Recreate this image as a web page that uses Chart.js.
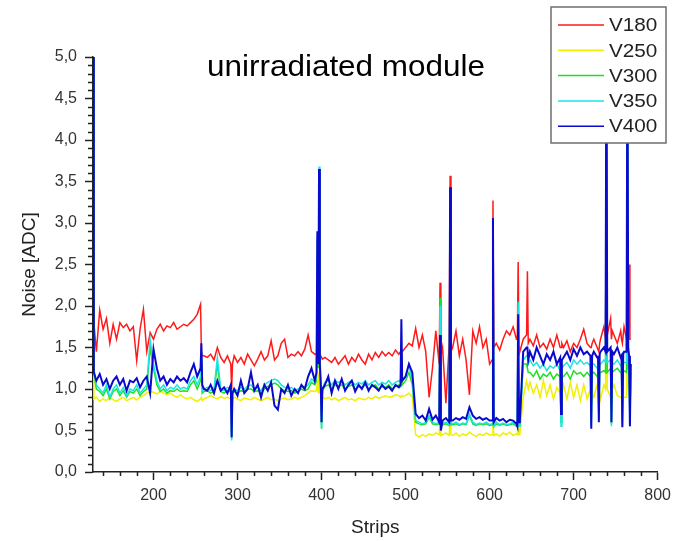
<!DOCTYPE html>
<html>
<head>
<meta charset="utf-8">
<script src="https://cdn.jsdelivr.net/npm/chart.js@4.4.0/dist/chart.umd.min.js"></script>
<style>
  html, body { margin: 0; padding: 0; background: #fff; }
  canvas { display: block; }
</style>
</head>
<body>
<canvas id="chart" width="677" height="541"></canvas>
<script>
'use strict';

// Strip numbers. Roughly every 4th strip, denser around the spikes.
var strips = [
  128, 129, 132, 136, 140, 144, 148, 152, 156, 160, 164, 168, 172, 176, 180, 184, 188, 192, 196, 200,
  204, 208, 212, 216, 220, 224, 228, 232, 236, 240, 244, 248, 252, 256, 257, 258,
  260, 264, 268, 272, 276, 280, 284, 288, 292, 293, 294, 296, 300, 304, 308, 312, 316, 320,
  324, 328, 332, 336, 340, 344, 348, 352, 356, 360, 364, 368, 372, 376, 380, 384, 388, 392,
  394, 395, 396, 397, 398, 399, 400, 401,
  404, 408, 412, 416, 420, 424, 428, 432, 436, 440, 444, 448,
  452, 456, 460, 464, 468, 472, 476, 480, 484, 488, 492, 494, 495, 496,
  500, 504, 508, 512, 516, 520, 524, 528, 532, 536, 540, 541, 542,
  544, 548, 552, 553, 554, 556, 560, 564, 568, 572, 576, 580, 584, 588, 592, 596, 600,
  603, 604, 605, 608, 612, 616, 620, 624, 628, 632, 633, 634, 635,
  636, 640, 644, 645, 646, 648, 652, 656, 660, 664, 668, 672, 676, 680, 684, 685, 686,
  688, 692, 696, 700, 704, 708, 712, 716, 720, 721, 722, 724, 728, 729, 730, 731,
  732, 736, 738, 739, 740, 744, 745, 746, 748, 752, 756, 757, 758, 759, 760,
  763, 764, 765, 766, 767, 768
];

var v180 = [
  3.5, 1.8, 1.45, 1.95, 1.72, 1.85, 1.55, 1.78, 1.6, 1.8, 1.74, 1.78, 1.7, 1.75, 1.34, 1.72, 1.96, 1.45, 1.68, 1.6,
  1.72, 1.78, 1.7, 1.76, 1.74, 1.8, 1.72, 1.75, 1.78, 1.76, 1.8, 1.84, 1.9, 2.02, 1.45, 1.4,
  1.4, 1.38, 1.42, 1.35, 1.5, 1.38, 1.32, 1.4, 1.3, 1.0, 1.3, 1.4, 1.32, 1.38, 1.3, 1.42, 1.35, 1.28,
  1.36, 1.45, 1.35, 1.4, 1.58, 1.35, 1.4, 1.55, 1.6, 1.38, 1.42, 1.4, 1.45, 1.4, 1.48, 1.65, 1.45, 1.42,
  1.42, 1.4, 1.45, 1.5, 1.42, 1.4, 1.38, 1.36,
  1.38, 1.35, 1.32, 1.38, 1.3, 1.35, 1.4, 1.3, 1.38, 1.33, 1.42, 1.35,
  1.3, 1.42, 1.35, 1.44, 1.38, 1.45, 1.4, 1.44, 1.4, 1.47, 1.42, 1.45, 1.48, 1.45,
  1.5, 1.55, 1.52, 1.73, 1.5, 1.65, 1.45, 0.9, 1.25, 1.7, 1.3, 2.28, 1.4,
  1.5, 0.83, 1.55, 3.57, 1.45, 1.5, 1.7, 1.4, 1.6, 1.35, 0.93, 1.7, 1.55, 1.75, 1.5, 1.6, 1.3,
  1.35, 3.27, 1.5, 1.55, 1.47, 1.6, 1.7, 1.65, 1.75, 1.6, 1.6, 2.53, 1.5,
  1.45, 1.6, 1.65, 2.42, 1.55, 1.6, 1.52, 1.65, 1.5, 1.55, 1.48, 1.6, 1.5, 1.65, 1.5, 1.5, 1.55,
  1.5, 1.58, 1.45, 1.55, 1.5, 1.6, 1.72, 1.55, 1.5, 1.5, 1.55, 1.6, 1.5, 1.5, 1.45, 1.55,
  1.6, 1.75, 1.6, 4.5, 1.65, 1.85, 1.6, 1.7, 1.65, 1.55, 1.7, 1.6, 1.55, 1.65, 1.75,
  1.6, 1.7, 1.8, 2.5, 1.6, 1.6
];

var v250 = [
  5.5, 0.88, 0.9, 0.85, 0.88, 0.86, 0.9, 0.87, 0.85, 0.88, 0.9, 0.86, 0.88, 0.9, 0.87, 0.9, 0.92, 0.95, 0.97, 0.96,
  0.94, 0.97, 0.95, 0.93, 0.95, 0.92, 0.9, 0.93, 0.9, 0.88, 0.9, 0.87, 0.85, 0.88, 0.9, 0.86,
  0.88, 0.9, 0.92, 0.9, 0.88, 0.91, 0.89, 0.9, 0.88, 0.86, 0.88, 0.9, 0.88, 0.86, 0.89, 0.88, 0.87, 0.9,
  0.88, 0.86, 0.88, 0.9, 0.87, 0.88, 0.86, 0.88, 0.89, 0.87, 0.88, 0.9, 0.88, 0.9, 0.92, 0.95, 0.98, 0.97,
  0.98, 1.1, 0.95, 1.2, 0.95, 0.92, 0.88, 0.9,
  0.88, 0.9, 0.87, 0.89, 0.86, 0.88, 0.9, 0.87, 0.88, 0.86, 0.89, 0.88,
  0.87, 0.9, 0.88, 0.91, 0.89, 0.9, 0.92, 0.9, 0.91, 0.93, 0.92, 0.9, 0.92, 0.91,
  0.92, 0.95, 0.9, 0.45, 0.42, 0.45, 0.43, 0.46, 0.44, 0.47, 0.45, 0.6, 0.44,
  0.45, 0.47, 0.44, 0.8, 0.45, 0.44, 0.47, 0.43, 0.46, 0.44, 0.48, 0.45, 0.43, 0.46, 0.44, 0.47, 0.45,
  0.45, 0.7, 0.44, 0.46, 0.43, 0.47, 0.45, 0.48, 0.44, 0.46, 0.45, 0.6, 0.45,
  0.46, 0.9, 1.1, 1.05, 1.0, 1.08, 0.95, 1.05, 0.9, 1.1, 0.92, 1.05, 0.88, 1.02, 0.95, 0.75, 0.95,
  1.05, 0.88, 1.08, 0.9, 1.05, 0.86, 1.05, 0.88, 1.0, 0.8, 0.95, 0.9, 1.05, 1.0, 0.85, 0.95,
  0.88, 1.05, 1.0, 4.0, 1.0, 0.9, 0.8, 1.0, 1.05, 0.92, 0.9, 0.9, 0.8, 0.88, 0.9,
  0.9, 4.0, 1.05, 1.1, 0.8, 1.05
];

var v300 = [
  5.5, 1.2, 1.0, 0.97, 0.92, 1.0, 0.88, 0.97, 1.0, 0.92, 0.98, 0.9, 0.97, 0.95, 1.0, 0.92, 0.97, 1.0, 1.5, 1.25,
  1.05, 0.97, 1.0, 0.95, 0.98, 0.97, 1.0, 0.97, 0.98, 0.97, 1.05, 1.1, 1.0, 1.1, 1.4, 0.95,
  0.97, 0.98, 0.95, 0.97, 1.3, 0.97, 0.95, 0.98, 0.97, 0.4, 0.95, 0.97, 0.95, 0.98, 0.97, 1.0, 1.0, 0.97,
  0.98, 0.95, 1.0, 1.03, 1.05, 1.07, 1.05, 1.0, 0.98, 0.97, 0.98, 0.95, 0.97, 1.0, 0.98, 1.0, 1.08, 1.05,
  1.1, 2.8, 1.25, 3.6, 1.2, 1.0, 0.52, 0.98,
  1.03, 1.05, 1.0, 1.05, 1.03, 1.05, 1.0, 1.03, 1.05, 1.0, 1.03, 1.02,
  1.05, 1.0, 1.03, 1.05, 1.0, 1.03, 1.02, 1.05, 1.0, 1.03, 1.05, 1.03, 1.4, 1.05,
  1.1, 1.2, 1.05, 0.6, 0.58, 0.57, 0.58, 0.66, 0.58, 0.57, 0.58, 2.1, 0.55,
  0.57, 0.58, 0.56, 3.4, 0.57, 0.57, 0.58, 0.56, 0.58, 0.57, 0.68, 0.58, 0.56, 0.58, 0.57, 0.58, 0.56,
  0.57, 2.95, 0.55, 0.58, 0.56, 0.58, 0.56, 0.57, 0.58, 0.55, 0.55, 2.0, 0.55,
  0.57, 1.3, 1.3, 1.25, 1.2, 1.2, 1.15, 1.22, 1.12, 1.18, 1.15, 1.2, 1.12, 1.18, 1.15, 0.6, 1.15,
  1.15, 1.2, 1.12, 1.22, 1.18, 1.2, 1.15, 1.2, 1.15, 0.6, 1.18, 1.2, 1.15, 1.18, 0.65, 1.2,
  1.2, 1.22, 1.2, 5.5, 1.2, 1.25, 0.58, 1.2, 1.22, 1.25, 1.2, 1.2, 0.6, 1.2, 1.22,
  1.2, 5.5, 1.25, 1.2, 0.6, 1.2
];

var v350 = [
  5.5, 1.25, 1.05, 1.0, 0.95, 1.05, 0.9, 1.0, 1.05, 0.95, 1.02, 0.92, 1.0, 0.98, 1.05, 0.95, 1.0, 1.05, 1.6, 1.3,
  1.1, 1.0, 1.05, 0.98, 1.02, 1.0, 1.05, 1.0, 1.02, 1.0, 1.1, 1.15, 1.05, 1.15, 1.45, 0.98,
  1.0, 1.02, 0.98, 1.0, 1.38, 1.0, 0.98, 1.02, 1.0, 0.38, 0.98, 1.0, 0.98, 1.02, 1.0, 1.03, 1.05, 1.0,
  1.02, 0.98, 1.05, 1.08, 1.1, 1.12, 1.1, 1.05, 1.02, 1.0, 1.02, 0.98, 1.0, 1.03, 1.02, 1.05, 1.12, 1.08,
  1.15, 2.85, 1.3, 3.68, 1.25, 1.05, 0.52, 1.0,
  1.08, 1.1, 1.05, 1.1, 1.08, 1.1, 1.05, 1.08, 1.1, 1.05, 1.08, 1.06,
  1.1, 1.05, 1.08, 1.1, 1.05, 1.08, 1.06, 1.1, 1.05, 1.08, 1.1, 1.08, 1.5, 1.1,
  1.15, 1.3, 1.1, 0.62, 0.6, 0.58, 0.6, 0.68, 0.6, 0.58, 0.6, 2.0, 0.55,
  0.58, 0.6, 0.57, 3.4, 0.58, 0.58, 0.6, 0.57, 0.59, 0.58, 0.7, 0.6, 0.57, 0.59, 0.58, 0.6, 0.57,
  0.58, 3.0, 0.55, 0.6, 0.57, 0.59, 0.57, 0.58, 0.6, 0.56, 0.55, 2.05, 0.55,
  0.58, 1.35, 1.4, 1.4, 1.3, 1.35, 1.28, 1.32, 1.25, 1.3, 1.22, 1.28, 1.25, 1.3, 1.22, 0.55, 1.25,
  1.28, 1.32, 1.25, 1.35, 1.3, 1.35, 1.3, 1.32, 1.28, 0.55, 1.3, 1.3, 1.25, 1.28, 0.62, 1.3,
  1.3, 1.35, 1.32, 5.5, 1.32, 1.35, 0.55, 1.3, 1.3, 1.35, 1.28, 1.3, 0.55, 1.3, 1.32,
  1.32, 5.5, 1.35, 1.3, 0.55, 1.3
];

var v400 = [
  5.5, 1.2, 1.1, 1.18, 1.05, 1.12, 1.0, 1.1, 1.15, 1.05, 1.12, 0.98, 1.1, 1.08, 1.13, 1.02, 1.1, 1.15, 0.95, 1.48,
  1.25, 1.1, 1.15, 1.05, 1.12, 1.08, 1.15, 1.1, 1.13, 1.08, 1.2, 1.3, 1.15, 1.25, 1.55, 1.05,
  1.0, 0.98, 1.05, 0.95, 1.1, 0.98, 1.02, 0.95, 1.05, 0.42, 0.95, 1.0, 0.92, 1.1, 0.95, 1.0, 1.2, 0.98,
  1.05, 0.9, 1.05, 0.98, 1.08, 0.8, 0.75, 1.0, 0.95, 1.05, 0.92, 1.0, 0.95, 1.05, 1.0, 1.15, 1.25, 1.1,
  1.2, 2.9, 1.3, 3.65, 1.3, 1.1, 0.6, 1.0,
  1.05, 1.15, 0.95, 1.1, 1.0, 1.12, 0.98, 1.05, 1.1, 0.97, 1.05, 1.0,
  1.08, 0.98, 1.05, 1.02, 0.98, 1.05, 1.0, 1.03, 0.98, 1.05, 1.02, 1.05, 1.84, 1.1,
  1.15, 1.3, 1.2, 0.7, 0.65, 0.68, 0.62, 0.76, 0.63, 0.68, 0.6, 1.65, 0.5,
  0.62, 0.65, 0.6, 3.43, 0.62, 0.62, 0.65, 0.63, 0.66, 0.64, 0.78, 0.68, 0.64, 0.66, 0.63, 0.65, 0.62,
  0.62, 3.06, 0.6, 0.65, 0.62, 0.64, 0.6, 0.63, 0.62, 0.58, 0.55, 1.9, 0.6,
  0.62, 1.45, 1.5, 1.5, 1.35, 1.45, 1.35, 1.5, 1.4, 1.3, 1.42, 1.35, 1.45, 1.3, 1.38, 0.7, 1.35,
  1.38, 1.45, 1.35, 1.48, 1.4, 1.5, 1.42, 1.45, 1.4, 0.52, 1.4, 1.45, 1.38, 1.4, 0.6, 1.42,
  1.45, 1.5, 1.45, 5.5, 1.45, 1.5, 0.6, 1.45, 1.42, 1.5, 1.38, 1.4, 0.54, 1.42, 1.45,
  1.45, 5.5, 1.5, 1.4, 0.55, 1.3
];

var seriesNames = ['V180', 'V250', 'V300', 'V350', 'V400'];
var seriesValues = [v180, v250, v300, v350, v400];
var seriesColors = ['#ff1a1a', '#f0f000', '#1ee01e', '#1ae4e4', '#0a0acc'];

var xTicks = [200, 300, 400, 500, 600, 700, 800];
var yTicks = [0, 0.5, 1, 1.5, 2, 2.5, 3, 3.5, 4, 4.5, 5];

var chartTitle = 'unirradiated module';
var xTitle = 'Strips';
var yTitle = 'Noise [ADC]';

var FONT = '"Liberation Sans", Arial, sans-serif';


function buildDatasets() {
  return seriesNames.map(function(name, i) {
    var values = seriesValues[i];
    if (values.length !== strips.length) {
      throw new Error(name + ' has ' + values.length + ' values, expected ' + strips.length);
    }
    return {
      label: name,
      data: values.map(function(v, j) {
        return {x: strips[j], y: v};
      }),
      borderColor: seriesColors[i],
      borderWidth: i === 4 ? 2 : 1.5,
      // Origin draws the last curve on top.
      order: seriesNames.length - 1 - i,
      pointRadius: 0,
      tension: 0,
      fill: false
    };
  });
}

// The original text is a little wider than Liberation Sans, so stretch it.
function stretchedText(ctx, text, x, y, sx) {
  ctx.save();
  ctx.translate(x, y);
  ctx.scale(sx, 1);
  ctx.fillText(text, 0, 0);
  ctx.restore();
}

// Minor ticks, the title inside the plot and the boxed legend.
var decorations = {
  id: 'decorations',
  afterDraw: function(chart) {
    var ctx = chart.ctx;
    var xs = chart.scales.x;
    var ys = chart.scales.y;

    ctx.save();
    ctx.strokeStyle = '#222';
    ctx.lineWidth = 1.5;
    ctx.beginPath();
    for (var s = 140; s < 800; s += 20) {
      if (s % 100 === 0) continue;
      var px = Math.round(xs.getPixelForValue(s)) + 0.5;
      ctx.moveTo(px, ys.bottom);
      ctx.lineTo(px, ys.bottom + 4);
    }
    for (var k = 1; k < 50; k++) {
      if (k % 5 === 0) continue;
      var py = Math.round(ys.getPixelForValue(k / 10)) + 0.5;
      ctx.moveTo(xs.left - 5, py);
      ctx.lineTo(xs.left, py);
    }
    ctx.stroke();

    ctx.fillStyle = '#000';
    ctx.font = '29px ' + FONT;
    ctx.textAlign = 'center';
    ctx.textBaseline = 'alphabetic';
    stretchedText(ctx, chartTitle, 346, 76, 1.085);

    // Legend box sits over the top right corner of the plot.
    var bx = 551, by = 7, bw = 115, bh = 136;
    ctx.fillStyle = '#fff';
    ctx.fillRect(bx, by, bw, bh);
    ctx.strokeStyle = '#6e6e6e';
    ctx.lineWidth = 1.5;
    ctx.strokeRect(bx, by, bw, bh);

    ctx.font = '19px ' + FONT;
    ctx.textAlign = 'left';
    ctx.textBaseline = 'middle';
    seriesNames.forEach(function(name, i) {
      var rowY = by + 18 + i * 25.3;
      ctx.strokeStyle = seriesColors[i];
      ctx.lineWidth = 1.5;
      ctx.beginPath();
      ctx.moveTo(558, rowY);
      ctx.lineTo(604, rowY);
      ctx.stroke();
      ctx.fillStyle = '#222';
      stretchedText(ctx, name, 609, rowY + 1, 1.09);
    });
    ctx.restore();
  }
};

function commaLabel(value) {
  return value.toFixed(1).replace('.', ',');
}

new Chart(document.getElementById('chart'), {
  type: 'line',
  data: {datasets: buildDatasets()},
  options: {
    responsive: false,
    animation: false,
    devicePixelRatio: 1,
    layout: {padding: {left: 0, top: 57, right: 16, bottom: 0}},
    plugins: {
      legend: {display: false},
      tooltip: {enabled: false}
    },
    scales: {
      x: {
        type: 'linear',
        min: 128,
        max: 800,
        afterBuildTicks: function(scale) {
          scale.ticks = xTicks.map(function(v) { return {value: v}; });
        },
        afterFit: function(scale) {
          scale.height = 69;
        },
        ticks: {
          color: '#333',
          padding: 6,
          maxRotation: 0,
          font: {family: FONT, size: 16},
          callback: function(v) { return String(v); }
        },
        grid: {drawOnChartArea: false, drawTicks: true, tickLength: 8, tickColor: '#222', tickWidth: 1.5},
        border: {display: true, color: '#222', width: 1.5},
        title: {
          display: true,
          text: xTitle,
          color: '#222',
          font: {family: FONT, size: 19},
          padding: {top: 0, bottom: 2}
        }
      },
      y: {
        min: 0,
        max: 5,
        afterBuildTicks: function(scale) {
          scale.ticks = yTicks.map(function(v) { return {value: v}; });
        },
        afterFit: function(scale) {
          scale.width = 93;
        },
        ticks: {
          color: '#333',
          padding: 8,
          font: {family: FONT, size: 16},
          callback: function(v) { return commaLabel(v); }
        },
        grid: {drawOnChartArea: false, drawTicks: true, tickLength: 8, tickColor: '#222', tickWidth: 1.5},
        border: {display: true, color: '#222', width: 1.5},
        title: {
          display: true,
          text: yTitle,
          color: '#222',
          font: {family: FONT, size: 19},
          padding: {top: 18, bottom: 0}
        }
      }
    }
  },
  plugins: [decorations]
});
</script>
</body>
</html>
